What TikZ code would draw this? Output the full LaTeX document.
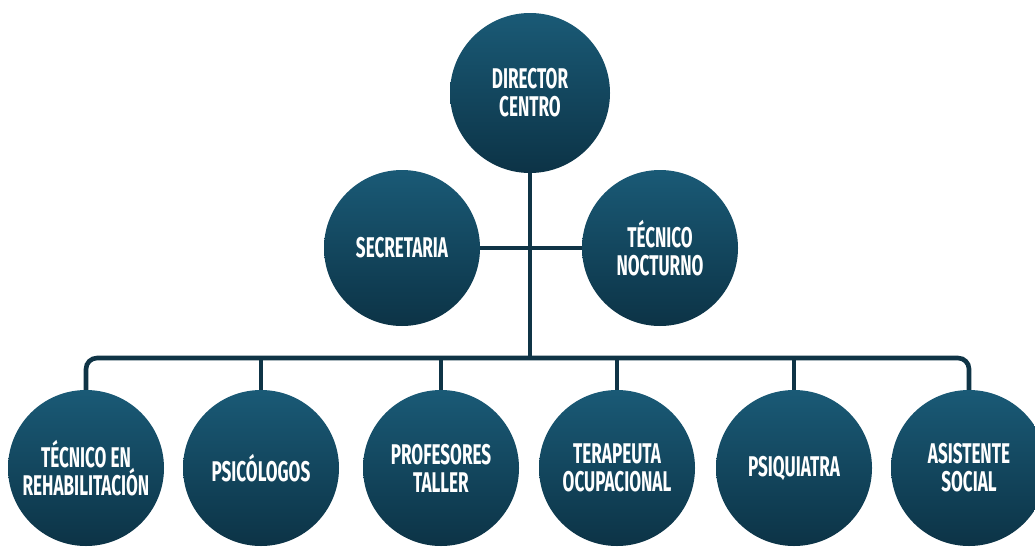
\documentclass[tikz,border=0pt]{standalone}
\usepackage{fontspec}
\setmainfont{Fira Sans}[FakeStretch=0.6]
\definecolor{circtop}{HTML}{1A5A76}
\definecolor{circbot}{HTML}{0C3346}
\definecolor{linec}{HTML}{0F3446}
\begin{document}
\begin{tikzpicture}[x=1pt,y=-1pt,
  org/.style={circle, minimum size=156pt, inner sep=0pt, top color=circtop, bottom color=circbot, draw=none,
    text=white, font=\fontsize{28.5}{28}\selectfont\bfseries, align=center},
  conn/.style={draw=linec, line width=4.6pt}]
\useasboundingbox[fill=white] (0,0) rectangle (1035,546);
\node[org, minimum size=160pt] (dir) at (530,93) {DIRECTOR\\CENTRO};
\node[org] (sec) at (402,248) {SECRETARIA};
\node[org] (noc) at (660,248) {TÉCNICO\\NOCTURNO};
\node[org] (b1) at (86,468) {TÉCNICO EN\\REHABILITACIÓN};
\node[org] (b2) at (261,468) {PSICÓLOGOS};
\node[org] (b3) at (441,468) {PROFESORES\\TALLER};
\node[org] (b4) at (617,468) {TERAPEUTA\\OCUPACIONAL};
\node[org] (b5) at (794,468) {PSIQUIATRA};
\node[org] (b6) at (969,468) {ASISTENTE\\SOCIAL};
\coordinate (bar) at (530,358);
\draw[conn] (dir.south) -- (bar);
\draw[conn] (sec.east) -- (noc.west);
\draw[conn, rounded corners=11pt] (b1.north) -- (b1.north |- bar) -- (b6.north |- bar) -- (b6.north);
\foreach \n in {b2,b3,b4,b5} \draw[conn] (\n.north) -- (\n.north |- bar);
\end{tikzpicture}
\end{document}
